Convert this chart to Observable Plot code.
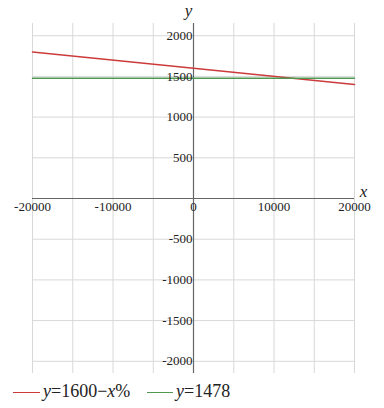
<!DOCTYPE html>
<html>
<head>
<meta charset="utf-8">
<script src="https://cdn.jsdelivr.net/npm/d3@7"></script>
<script src="https://cdn.jsdelivr.net/npm/@observablehq/plot@0.6"></script>
<style>
  body { margin: 0; background: #fff; }
  #legend { font-family: "Liberation Serif", serif; font-size: 18px; color: #222; height: 30px; position: relative; }
  .item { position: absolute; top: 3px; display: flex; align-items: center; white-space: nowrap; line-height: 21px; }
  .sw { display: inline-block; width: 27px; height: 0; border-top: 1.5px solid; margin-right: 3px; margin-top: 2px; }
</style>
</head>
<body>
<div id="chart"></div>
<div id="legend"></div>
<script>
const xs = [-20000, 20000];
const redY = [1800, 1400];
const greenY = [1478, 1478];
const xGrid = [-20000, -15000, -10000, -5000, 0, 5000, 10000, 15000, 20000];
const yGrid = [-2000, -1500, -1000, -500, 0, 500, 1000, 1500, 2000];
const xLabels = [-20000, -10000, 0, 10000, 20000];
const yLabels = [2000, 1500, 1000, 500, -500, -1000, -1500, -2000];
const seriesNames = ["y=1600−x%", "y=1478"];
const colors = ["#cc3b3b", "#4f9a50"];

const red = xs.map((x, i) => ({x, y: redY[i]}));
const green = xs.map((x, i) => ({x, y: greenY[i]}));

const chart = Plot.plot({
  width: 384,
  height: 378,
  marginLeft: 32,
  marginRight: 30,
  marginTop: 23,
  marginBottom: 5,
  x: {domain: [-20000, 20000], axis: null},
  y: {domain: [-2150, 2150], axis: null},
  style: {fontFamily: "Liberation Serif, serif", fontSize: "13px", background: "#fff"},
  marks: [
    Plot.ruleX(xGrid, {stroke: "#d8d8d8", strokeWidth: 1}),
    Plot.ruleY(yGrid, {stroke: "#d8d8d8", strokeWidth: 1}),
    Plot.ruleX([0], {stroke: "#666", strokeWidth: 1.2}),
    Plot.ruleY([0], {x1: -20000, x2: 20000, stroke: "#666", strokeWidth: 1.2}),
    Plot.line(red, {x: "x", y: "y", stroke: colors[0], strokeWidth: 1.5}),
    Plot.line(green, {x: "x", y: "y", stroke: colors[1], strokeWidth: 1.5}),
    Plot.text(xLabels, {x: d => d, y: 0, dy: 8, text: d => String(d), textAnchor: "middle", fill: "#222", fontSize: 13}),
    Plot.text(yLabels, {x: 0, y: d => d, dx: -1, text: d => String(d), textAnchor: "end", fill: "#222", fontSize: 13}),
    Plot.text(["y"], {x: 0, y: 2150, dx: -5, dy: -13, text: d => d, fontStyle: "italic", fontSize: 17, fill: "#222"}),
    Plot.text(["x"], {x: 20000, y: 0, dx: 9, dy: -7, text: d => d, fontStyle: "italic", fontSize: 17, fill: "#222"})
  ]
});
document.getElementById("chart").appendChild(chart);

const legend = document.getElementById("legend");
const lefts = [13, 147];
const widths = [27, 26];
seriesNames.forEach((name, i) => {
  const item = document.createElement("div");
  item.className = "item";
  item.style.left = lefts[i] + "px";
  const sw = document.createElement("span");
  sw.className = "sw";
  sw.style.borderTopColor = colors[i];
  sw.style.width = widths[i] + "px";
  item.appendChild(sw);
  const t = document.createElement("span");
  t.innerHTML = name.replace(/([xy])(?=[=%]|$)/g, "<i>$1</i>");
  item.appendChild(t);
  legend.appendChild(item);
});
</script>
</body>
</html>
